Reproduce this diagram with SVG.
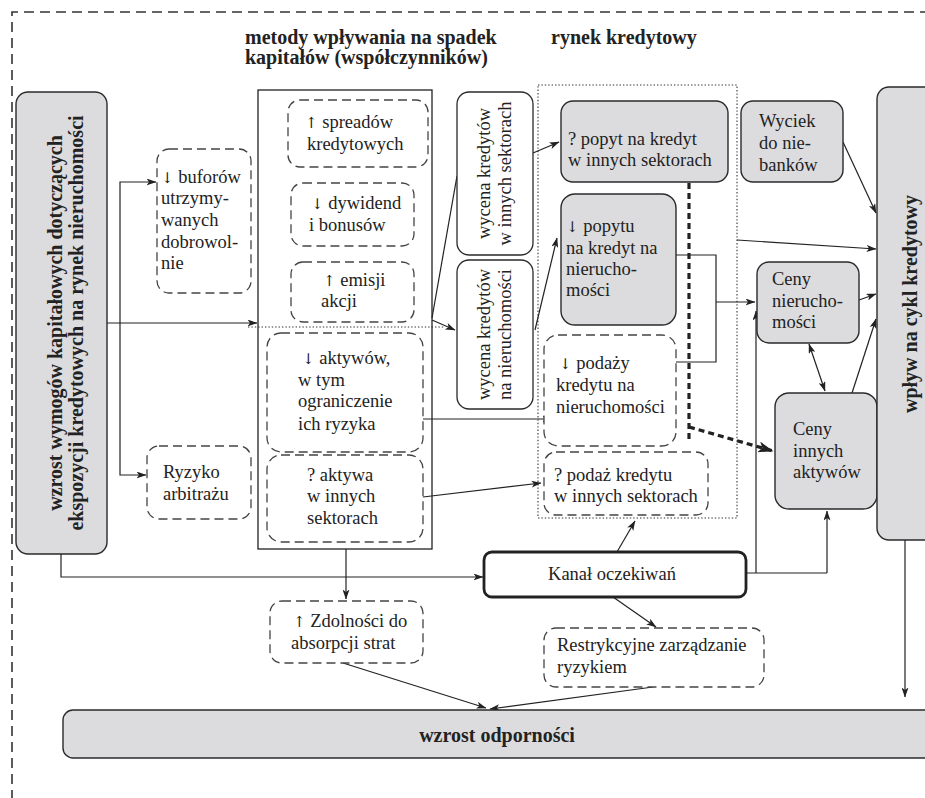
<svg xmlns="http://www.w3.org/2000/svg" width="925" height="798" viewBox="0 0 925 798">
<defs>
<marker id="ar" viewBox="0 0 10 7" refX="9.5" refY="3.5" markerWidth="10" markerHeight="7" markerUnits="userSpaceOnUse" orient="auto-start-reverse">
<path d="M0,0 L10,3.5 L0,7 L2.5,3.5 z" fill="#222"/>
</marker>
<marker id="arb" viewBox="0 0 14 10" refX="13.5" refY="5" markerWidth="16" markerHeight="11" markerUnits="userSpaceOnUse" orient="auto">
<path d="M0,0 L14,5 L0,10 L3.5,5 z" fill="#222"/>
</marker>
</defs>
<style>
.t{font-family:"Liberation Serif","Times New Roman",serif;font-size:18.5px;fill:#222}
.b{font-weight:bold;font-size:20px}
.c{text-anchor:middle}
.a{font-family:"DejaVu Serif","DejaVu Sans",serif;font-size:15px;fill:#222}
.g{fill:#dcdcde;stroke:#2a2a2a;stroke-width:1.4}
.w{fill:#fff;stroke:#2a2a2a;stroke-width:1.3}
.d{fill:#fff;stroke:#444;stroke-width:1.3;stroke-dasharray:9 5}
.ln{fill:none;stroke:#222;stroke-width:1.2}
.la{fill:none;stroke:#222;stroke-width:1.2;marker-end:url(#ar)}
.dot{fill:none;stroke:#333;stroke-width:1.1;stroke-dasharray:1.4 2}
</style>
<rect width="925" height="798" fill="#fff"/>
<path d="M12,800 V12 H930" fill="none" stroke="#333" stroke-width="1.6" stroke-dasharray="10 6"/>
<text class="t b" x="245" y="44">metody wpływania na spadek</text>
<text class="t b" x="245" y="64">kapitałów (współczynników)</text>
<text class="t b" x="551" y="44">rynek kredytowy</text>

<g id="containers">
<rect x="258" y="90" width="174" height="459" fill="none" stroke="#222" stroke-width="1.3"/>
<path class="dot" d="M248,327 H445"/>
<rect class="dot" x="538" y="85" width="199" height="433"/>
</g>

<g id="connectors">
<path class="la" d="M107,323 H257"/>
<path class="la" d="M120,323 V182 H156"/>
<path class="la" d="M120,323 V475 H146"/>
<path class="la" d="M61,554 V577 H483"/>
<path class="la" d="M346,549 V599"/>
<path class="ln" d="M432,318 L457,176"/>
<path class="la" d="M432,320 L455,330"/>
<path class="la" d="M533,153 L559,142"/>
<path class="la" d="M535,330 L557,238"/>
<path class="la" d="M423,419 H552"/>
<path class="la" d="M423,497 L541,483"/>
<path class="ln" d="M676,255 H716 V362 H676"/>
<path class="la" d="M716,302 H755"/>
<path fill="none" stroke="#222" stroke-width="3.2" stroke-dasharray="6 4" d="M689,183 V440"/>
<path fill="none" stroke="#222" stroke-width="3.2" stroke-dasharray="6 4" marker-end="url(#arb)" d="M689,427 L773,451"/>
<path class="la" d="M737,240 L876,249"/>
<path class="la" d="M843,142 L876,213"/>
<path class="la" d="M859,300 L876,294"/>
<path class="la" style="marker-start:url(#ar)" d="M809,344 L825,391"/>
<path class="la" d="M852,393 L876,319"/>
<path class="ln" d="M746,573 H827"/>
<path class="la" d="M756,573 V311"/>
<path class="la" d="M827,573 V511"/>
<path class="la" d="M617,552 L635,521"/>
<path class="la" d="M613,597 L656,627"/>
<path class="la" d="M653,687 L490,709"/>
<path class="la" d="M343,663 L486,708"/>
<path class="la" d="M905,540 V697"/>
</g>

<g id="n-wymogi">
<rect class="g" x="16" y="92" width="91" height="462" rx="12"/>
<text class="t b c" transform="translate(62,323) rotate(-90)">wzrost wymogów kapitałowych dotyczących</text>
<text class="t b c" transform="translate(83,323) rotate(-90)">ekspozycji kredytowych na rynek nieruchomości</text>
</g>

<g id="n-bufory">
<rect class="d" x="157" y="149" width="94" height="144" rx="12"/>
<text class="t" x="161" y="183"><tspan class="a">↓</tspan> buforów</text>
<text class="t" x="161" y="204">utrzymy-</text>
<text class="t" x="161" y="226">wanych</text>
<text class="t" x="161" y="248">dobrowol-</text>
<text class="t" x="161" y="269">nie</text>
</g>

<g id="n-arbitraz">
<rect class="d" x="147" y="446" width="104" height="73" rx="12"/>
<text class="t" x="163" y="478">Ryzyko</text>
<text class="t" x="163" y="500">arbitrażu</text>
</g>

<g id="n-spready">
<rect class="d" x="288" y="100" width="140" height="67" rx="12"/>
<text class="t" x="305" y="128"><tspan class="a">↑</tspan> spreadów</text>
<text class="t" x="307" y="150">kredytowych</text>
</g>

<g id="n-dywidendy">
<rect class="d" x="291" y="183" width="123" height="63" rx="12"/>
<text class="t" x="311" y="209"><tspan class="a">↓</tspan> dywidend</text>
<text class="t" x="309" y="231">i bonusów</text>
</g>

<g id="n-emisja">
<rect class="d" x="291" y="262" width="123" height="60" rx="12"/>
<text class="t" x="323" y="286"><tspan class="a">↑</tspan> emisji</text>
<text class="t" x="321" y="307">akcji</text>
</g>

<g id="n-aktywa">
<rect class="d" x="267" y="333" width="156" height="119" rx="14"/>
<text class="t" x="302" y="364"><tspan class="a">↓</tspan> aktywów,</text>
<text class="t" x="298" y="386">w tym</text>
<text class="t" x="298" y="407">ograniczenie</text>
<text class="t" x="298" y="430">ich ryzyka</text>
</g>

<g id="n-aktywa-inne">
<rect class="d" x="267" y="455" width="156" height="87" rx="14"/>
<text class="t" x="307" y="481">? aktywa</text>
<text class="t" x="307" y="502">w innych</text>
<text class="t" x="307" y="524">sektorach</text>
</g>

<g id="n-zdolnosci">
<rect class="d" x="270" y="601" width="153" height="62" rx="12"/>
<text class="t" x="293" y="627"><tspan class="a">↑</tspan> Zdolności do</text>
<text class="t" x="291" y="649">absorpcji strat</text>
</g>

<g id="n-wycena-inne">
<rect class="w" x="457" y="92" width="76" height="163" rx="12"/>
<text class="t c" transform="translate(490,173.5) rotate(-90)">wycena kredytów</text>
<text class="t c" transform="translate(511,173.5) rotate(-90)">w innych sektorach</text>
</g>

<g id="n-wycena-nier">
<rect class="w" x="457" y="260" width="76" height="149" rx="12"/>
<text class="t c" transform="translate(490,334.5) rotate(-90)">wycena kredytów</text>
<text class="t c" transform="translate(511,334.5) rotate(-90)">na nieruchomości</text>
</g>

<g id="n-popyt-inne">
<rect class="g" x="561" y="101" width="167" height="81" rx="12"/>
<text class="t" x="568" y="145">? popyt na kredyt</text>
<text class="t" x="568" y="166">w innych sektorach</text>
</g>

<g id="n-popyt-nier">
<rect class="g" x="561" y="194" width="115" height="131" rx="14"/>
<text class="t" x="566" y="232"><tspan class="a">↓</tspan> popytu</text>
<text class="t" x="566" y="254">na kredyt na</text>
<text class="t" x="566" y="275">nierucho-</text>
<text class="t" x="566" y="296">mości</text>
</g>

<g id="n-podaz-nier">
<rect class="d" x="544" y="335" width="132" height="111" rx="14"/>
<text class="t" x="559" y="369"><tspan class="a">↓</tspan> podaży</text>
<text class="t" x="556" y="391">kredytu na</text>
<text class="t" x="556" y="413">nieruchomości</text>
</g>

<g id="n-podaz-inne">
<rect class="d" x="544" y="452" width="164" height="63" rx="12"/>
<text class="t" x="554" y="481">? podaż kredytu</text>
<text class="t" x="554" y="502">w innych sektorach</text>
</g>

<g id="n-wyciek">
<rect class="g" x="741" y="101" width="102" height="81" rx="12"/>
<text class="t" x="759" y="127">Wyciek</text>
<text class="t" x="759" y="149">do nie-</text>
<text class="t" x="759" y="171">banków</text>
</g>

<g id="n-ceny-nier">
<rect class="g" x="757" y="262" width="102" height="81" rx="12"/>
<text class="t" x="772" y="285">Ceny</text>
<text class="t" x="772" y="307">nierucho-</text>
<text class="t" x="772" y="328">mości</text>
</g>

<g id="n-ceny-inne">
<rect class="g" x="775" y="393" width="102" height="116" rx="14"/>
<text class="t" x="793" y="435">Ceny</text>
<text class="t" x="793" y="457">innych</text>
<text class="t" x="793" y="478">aktywów</text>
</g>

<g id="n-cykl">
<rect class="g" x="877" y="87" width="80" height="453" rx="12"/>
<text class="t b c" transform="translate(917,304) rotate(-90)">wpływ na cykl kredytowy</text>
</g>

<g id="n-kanal">
<rect x="484" y="552" width="262" height="45" rx="8" fill="#fff" stroke="#222" stroke-width="2.8"/>
<text class="t c" x="612" y="580">Kanał oczekiwań</text>
</g>

<g id="n-restrykcyjne">
<rect class="d" x="544" y="628" width="220" height="59" rx="12"/>
<text class="t" x="557" y="651">Restrykcyjne zarządzanie</text>
<text class="t" x="557" y="673">ryzykiem</text>
</g>

<g id="n-odpornosc">
<rect class="g" x="63" y="710" width="900" height="48" rx="10"/>
<text class="t b c" x="497" y="742">wzrost odporności</text>
</g>
</svg>
